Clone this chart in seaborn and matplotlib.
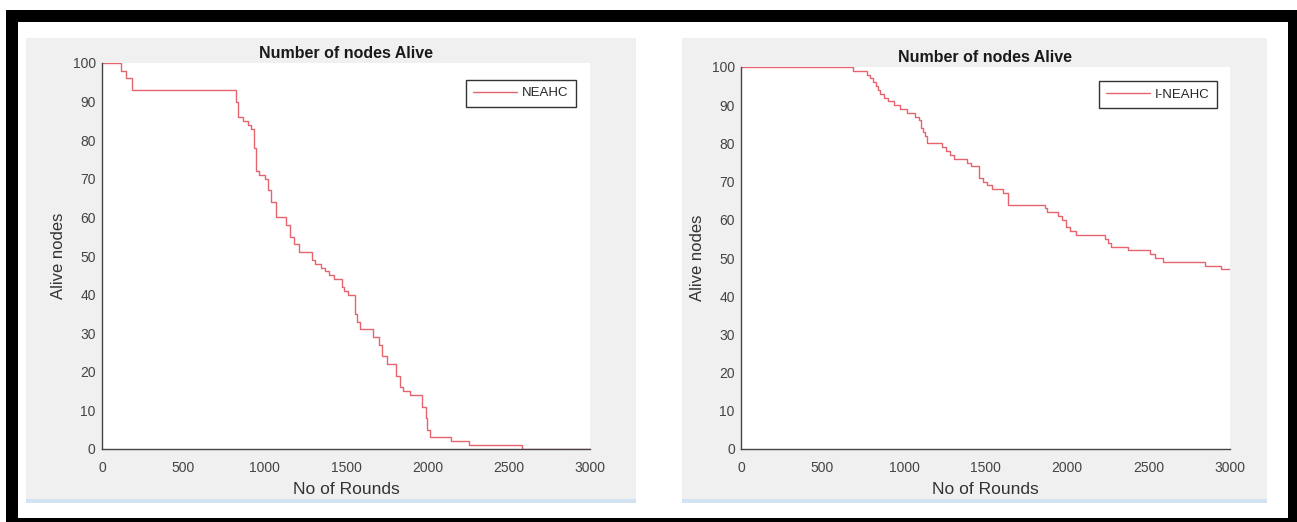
import matplotlib
matplotlib.use('Agg')
import matplotlib.pyplot as plt
from matplotlib.patches import Rectangle
import seaborn as sns
import pandas as pd

# Step data: round at which each count starts
neahc_rounds = [0, 114, 150, 185, 826, 835, 864, 900, 915, 935, 945, 966, 1000, 1020,
                1042, 1068, 1131, 1157, 1180, 1208, 1289, 1309, 1347, 1373, 1398, 1424,
                1475, 1490, 1513, 1558, 1570, 1589, 1665, 1703, 1721, 1754, 1805, 1830,
                1850, 1894, 1970, 1990, 2000, 2016, 2143, 2255, 2580, 3000]
neahc_alive = [100, 98, 96, 93, 90, 86, 85, 84, 83, 78, 72, 71, 70, 67,
               64, 60, 58, 55, 53, 51, 49, 48, 47, 46, 45, 44,
               42, 41, 40, 35, 33, 31, 29, 27, 24, 22, 19, 16,
               15, 14, 11, 8, 5, 3, 2, 1, 0, 0]

ineahc_rounds = [0, 686, 775, 790, 810, 826, 840, 851, 876, 902, 940, 978, 1016, 1067,
                 1092, 1105, 1118, 1130, 1143, 1232, 1257, 1283, 1308, 1384, 1410, 1461,
                 1486, 1511, 1537, 1610, 1638, 1867, 1880, 1943, 1968, 1994, 2020, 2057,
                 2235, 2250, 2273, 2375, 2507, 2540, 2591, 2845, 2946, 3000]
ineahc_alive = [100, 99, 98, 97, 96, 95, 94, 93, 92, 91, 90, 89, 88, 87,
                86, 84, 83, 82, 80, 79, 78, 77, 76, 75, 74, 71,
                70, 69, 68, 67, 64, 63, 62, 61, 60, 58, 57, 56,
                55, 54, 53, 52, 51, 50, 49, 48, 47, 47]

x_ticks = [0, 500, 1000, 1500, 2000, 2500, 3000]
y_ticks = [0, 10, 20, 30, 40, 50, 60, 70, 80, 90, 100]

W, H = 1297, 522
LINE_COLOR = '#e6646e'
AXIS_COLOR = '#444444'

sns.set_style('white')
plt.rcParams['font.family'] = ['Liberation Sans', 'DejaVu Sans']


def fx(px):
    return px / W


def fy(py):
    return 1 - py / H


def box(fig, x0, y0, x1, y1, color):
    # rectangle given in pixel coordinates (top-left origin)
    fig.add_artist(Rectangle((fx(x0), fy(y1)), fx(x1) - fx(x0), fy(y0) - fy(y1),
                             transform=fig.transFigure, facecolor=color,
                             edgecolor='none', zorder=0))


fig = plt.figure(figsize=(W / 100, H / 100), dpi=100, facecolor='white')

# black frame
box(fig, 6, 10, 1297, 22, 'black')
box(fig, 6, 10, 18, 522, 'black')
box(fig, 1288, 10, 1297, 522, 'black')
box(fig, 6, 518, 1297, 522, 'black')

# grey figure windows with a light blue strip at the bottom
for x0, x1 in [(26, 636), (682, 1267)]:
    box(fig, x0, 38, x1, 503, '#f0f0f0')
    box(fig, x0, 499, x1, 503, '#d3e3f1')


def panel(rect, rounds, alive, label, leg_anchor):
    x0, y0, x1, y1 = rect
    ax = fig.add_axes([fx(x0), fy(y1), fx(x1) - fx(x0), fy(y0) - fy(y1)])
    df = pd.DataFrame({'Rounds': rounds, 'Alive': alive})
    sns.lineplot(x='Rounds', y='Alive', data=df, drawstyle='steps-post',
                 color=LINE_COLOR, linewidth=1.0, label=label, ax=ax)
    ax.set_facecolor('white')
    ax.set_xlim(0, 3000)
    ax.set_ylim(0, 100)
    ax.set_xticks(x_ticks)
    ax.set_yticks(y_ticks)
    for side in ['top', 'right']:
        ax.spines[side].set_visible(False)
    for side in ['left', 'bottom']:
        ax.spines[side].set_color(AXIS_COLOR)
        ax.spines[side].set_linewidth(1.0)
    ax.tick_params(axis='both', direction='in', length=3, width=0.8,
                   colors=AXIS_COLOR, labelsize=10)
    ax.tick_params(axis='x', pad=9)
    ax.tick_params(axis='y', pad=4.5)
    ax.set_xlabel('No of Rounds', fontsize=12.5, color='#333333', labelpad=5)
    ax.set_ylabel('Alive nodes', fontsize=12, color='#333333', labelpad=5)
    ax.set_title('Number of nodes Alive', fontsize=11.5, fontweight='bold',
                 color='#1a1a1a', pad=3.5)
    leg = ax.legend(loc='upper right', bbox_to_anchor=leg_anchor, borderaxespad=0,
                    fontsize=9.5, handlelength=3.3, handletextpad=0.4,
                    borderpad=0.55, fancybox=False, framealpha=1)
    leg.get_frame().set_edgecolor('#333333')
    leg.get_frame().set_linewidth(1.0)
    for t in leg.get_texts():
        t.set_color('#262626')
    return ax


panel((102, 63, 590, 449), neahc_rounds, neahc_alive, 'NEAHC', (0.971, 0.956))
panel((741, 67, 1230, 449), ineahc_rounds, ineahc_alive, 'I-NEAHC', (0.973, 0.963))

fig.savefig('out.png', dpi=100, facecolor='white')
